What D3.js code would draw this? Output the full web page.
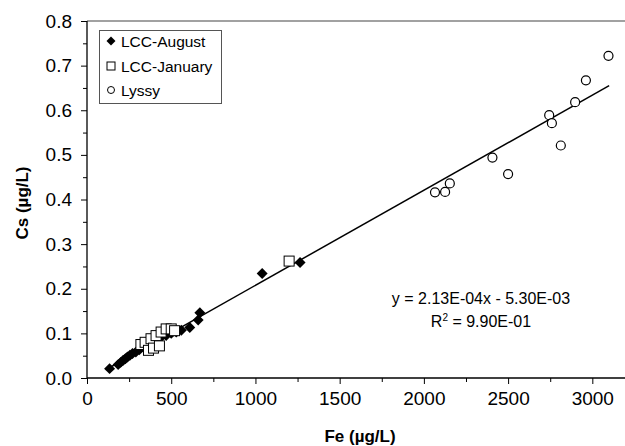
<!DOCTYPE html>
<html><head><meta charset="utf-8">
<script src="https://cdn.jsdelivr.net/npm/d3@7"></script>
<style>body{margin:0;background:#fff}svg{display:block}text{font-family:"Liberation Sans",Arial,sans-serif;fill:#000}</style>
</head><body><svg id="c" width="625" height="446"></svg>
<script>
// Data
const augustFe = [134,185,200,215,228,240,255,270,290,310,340,370,400,430,470,500,530,560,610,660,670,1040,1265];
const augustCs = [0.021,0.030,0.035,0.040,0.043,0.047,0.051,0.055,0.058,0.063,0.068,0.075,0.082,0.088,0.095,0.100,0.103,0.107,0.113,0.130,0.146,0.234,0.259];
const januaryFe = [320,345,365,380,395,410,430,440,470,500,520,1200];
const januaryCs = [0.075,0.080,0.062,0.088,0.067,0.095,0.072,0.103,0.110,0.110,0.106,0.262];
const lyssyFe = [3096,2962,2898,2744,2760,2813,2407,2500,2154,2066,2126];
const lyssyCs = [0.722,0.667,0.618,0.589,0.571,0.521,0.494,0.457,0.436,0.416,0.417];
const xTicks = [0,500,1000,1500,2000,2500,3000];
const yTicks = [0,0.1,0.2,0.3,0.4,0.5,0.6,0.7,0.8];
const slope = 2.13e-4, intercept = -5.30e-3;
const fitRange = [125,3100];
const legendLabels = ["LCC-August","LCC-January","Lyssy"];
const eqText = "y = 2.13E-04x - 5.30E-03";

const svg = d3.select("#c");
const x = d3.scaleLinear().domain([0,3200]).range([87,626]);
const y = d3.scaleLinear().domain([0,0.8]).range([378,21]);

// frame lines
svg.append("line").attr("x1",87).attr("x2",625).attr("y1",21).attr("y2",21).attr("stroke","#444").attr("stroke-width",1.2);

// minor ticks
const gx = svg.append("g").attr("transform","translate(0,378)");
gx.call(d3.axisBottom(x).tickValues(d3.range(250,3200,500)).tickSize(4).tickFormat(""));
gx.call(g=>g.select(".domain").remove());
const gx2 = svg.append("g").attr("transform","translate(0,378)");
gx2.call(d3.axisBottom(x).tickValues(xTicks).tickSize(6).tickPadding(8).tickFormat(d3.format("d")));
gx2.select(".domain").remove();
gx2.selectAll("text").style("font-size","19px");

const gy = svg.append("g").attr("transform","translate(87,0)");
gy.call(d3.axisLeft(y).tickValues(d3.range(0.05,0.8,0.1)).tickSize(4).tickFormat(""));
gy.select(".domain").remove();
const gy2 = svg.append("g").attr("transform","translate(87,0)");
gy2.call(d3.axisLeft(y).tickValues(yTicks).tickSize(6).tickPadding(9).tickFormat(d3.format(".1f")));
gy2.select(".domain").remove();
gy2.selectAll("text").style("font-size","19px");

svg.selectAll(".tick line").attr("stroke","#000");

// axis lines
svg.append("line").attr("x1",87).attr("x2",625).attr("y1",378).attr("y2",378).attr("stroke","#000").attr("stroke-width",1.3);
svg.append("line").attr("x1",87).attr("x2",87).attr("y1",21).attr("y2",378).attr("stroke","#000").attr("stroke-width",1.3);

// titles
svg.append("text").attr("x",360).attr("y",442).attr("text-anchor","middle").style("font-size","17px").style("font-weight","bold").text("Fe (µg/L)");
svg.append("text").attr("transform","translate(28,203) rotate(-90)").attr("text-anchor","middle").style("font-size","17px").style("font-weight","bold").text("Cs (µg/L)");

// fit line
svg.append("line")
  .attr("x1",x(fitRange[0])).attr("y1",y(slope*fitRange[0]+intercept))
  .attr("x2",x(fitRange[1])).attr("y2",y(slope*fitRange[1]+intercept))
  .attr("stroke","#000").attr("stroke-width",1.5);

// markers
const aug = d3.zip(augustFe,augustCs);
svg.append("g").selectAll("path").data(aug).join("path")
  .attr("d",d3.symbol().type(d3.symbolSquare).size(60))
  .attr("transform",d=>`translate(${x(d[0])},${y(d[1])}) rotate(45)`)
  .attr("fill","#000");
const jan = d3.zip(januaryFe,januaryCs);
svg.append("g").selectAll("rect").data(jan).join("rect")
  .attr("x",d=>x(d[0])-5).attr("y",d=>y(d[1])-5).attr("width",10).attr("height",10)
  .attr("fill","#fff").attr("stroke","#000").attr("stroke-width",1);
const lys = d3.zip(lyssyFe,lyssyCs);
svg.append("g").selectAll("circle").data(lys).join("circle")
  .attr("cx",d=>x(d[0])).attr("cy",d=>y(d[1])).attr("r",4.5)
  .attr("fill","#fff").attr("stroke","#000").attr("stroke-width",1.2);

// legend
const lg = svg.append("g");
lg.append("rect").attr("x",99.5).attr("y",30.5).attr("width",122).attr("height",73).attr("fill","#fff").attr("stroke","#555");
const rows=[41,66,90];
lg.append("path").attr("d",d3.symbol().type(d3.symbolSquare).size(40)).attr("transform",`translate(111,${rows[0]}) rotate(45)`).attr("fill","#000");
lg.append("rect").attr("x",107).attr("y",rows[1]-4).attr("width",8).attr("height",8).attr("fill","#fff").attr("stroke","#000");
lg.append("circle").attr("cx",111).attr("cy",rows[2]).attr("r",3.5).attr("fill","#fff").attr("stroke","#000");
legendLabels.forEach((t,i)=>{
  lg.append("text").attr("x",121).attr("y",rows[i]+5.5).style("font-size","15.5px").text(t);
});

// equation
svg.append("text").attr("x",481).attr("y",304).attr("text-anchor","middle").style("font-size","16px").text(eqText);
const r2 = svg.append("text").attr("x",481).attr("y",327).attr("text-anchor","middle").style("font-size","16px");
r2.append("tspan").text("R");
r2.append("tspan").attr("dy",-6).style("font-size","10px").text("2");
r2.append("tspan").attr("dy",6).text(" = 9.90E-01");
</script></body></html>
